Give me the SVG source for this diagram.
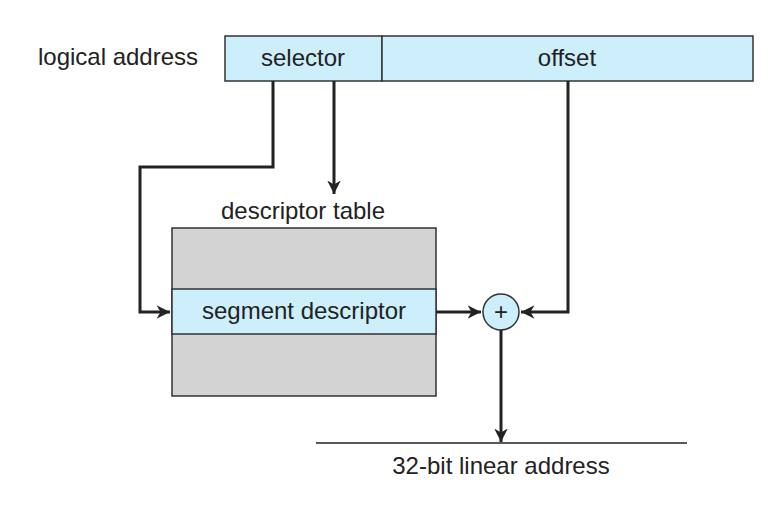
<svg xmlns="http://www.w3.org/2000/svg" width="782" height="517" viewBox="0 0 782 517">
<style>
text{font-family:"Liberation Sans",Arial,sans-serif;font-size:24px;fill:#222}
.b{fill:#cdeefb;stroke:#333;stroke-width:1.5}
.g{fill:#d3d3d3;stroke:#333;stroke-width:1.5}
.c{fill:none;stroke:#222;stroke-width:3}
</style>
<defs><marker id="a" viewBox="0 0 10 10" refX="10" refY="5" markerWidth="4.5" markerHeight="4.5" orient="auto" markerUnits="strokeWidth"><path d="M0,0L10,5L0,10L3,5z" fill="#222"/></marker></defs>
<rect width="782" height="517" fill="#fff"/>
<text x="118" y="65" text-anchor="middle">logical address</text>
<g id="selector"><rect class="b" x="225" y="36" width="157" height="45"/><text x="303" y="66" text-anchor="middle">selector</text></g>
<g id="offset"><rect class="b" x="382" y="36" width="371" height="45"/><text x="567" y="66" text-anchor="middle">offset</text></g>
<g id="table"><text x="303" y="219" text-anchor="middle">descriptor table</text>
<rect class="g" x="172" y="228" width="264" height="168"/>
<rect class="b" x="172" y="289" width="264" height="45"/>
<text x="304" y="319" text-anchor="middle">segment descriptor</text></g>
<g id="plus"><circle class="b" cx="501" cy="312" r="18"/><text x="501" y="320" text-anchor="middle" font-size="20">+</text></g>
<g id="linear"><line x1="316" y1="443" x2="687" y2="443" stroke="#222" stroke-width="1.5"/><text x="501" y="474" text-anchor="middle">32-bit linear address</text></g>
<g id="connectors">
<path class="c" d="M273,81V167H140V312H170" marker-end="url(#a)"/>
<path class="c" d="M334,81V194" marker-end="url(#a)"/>
<path class="c" d="M436,312H481" marker-end="url(#a)"/>
<path class="c" d="M568,81V312H521" marker-end="url(#a)"/>
<path class="c" d="M501,330V442" marker-end="url(#a)"/>
</g>
</svg>
